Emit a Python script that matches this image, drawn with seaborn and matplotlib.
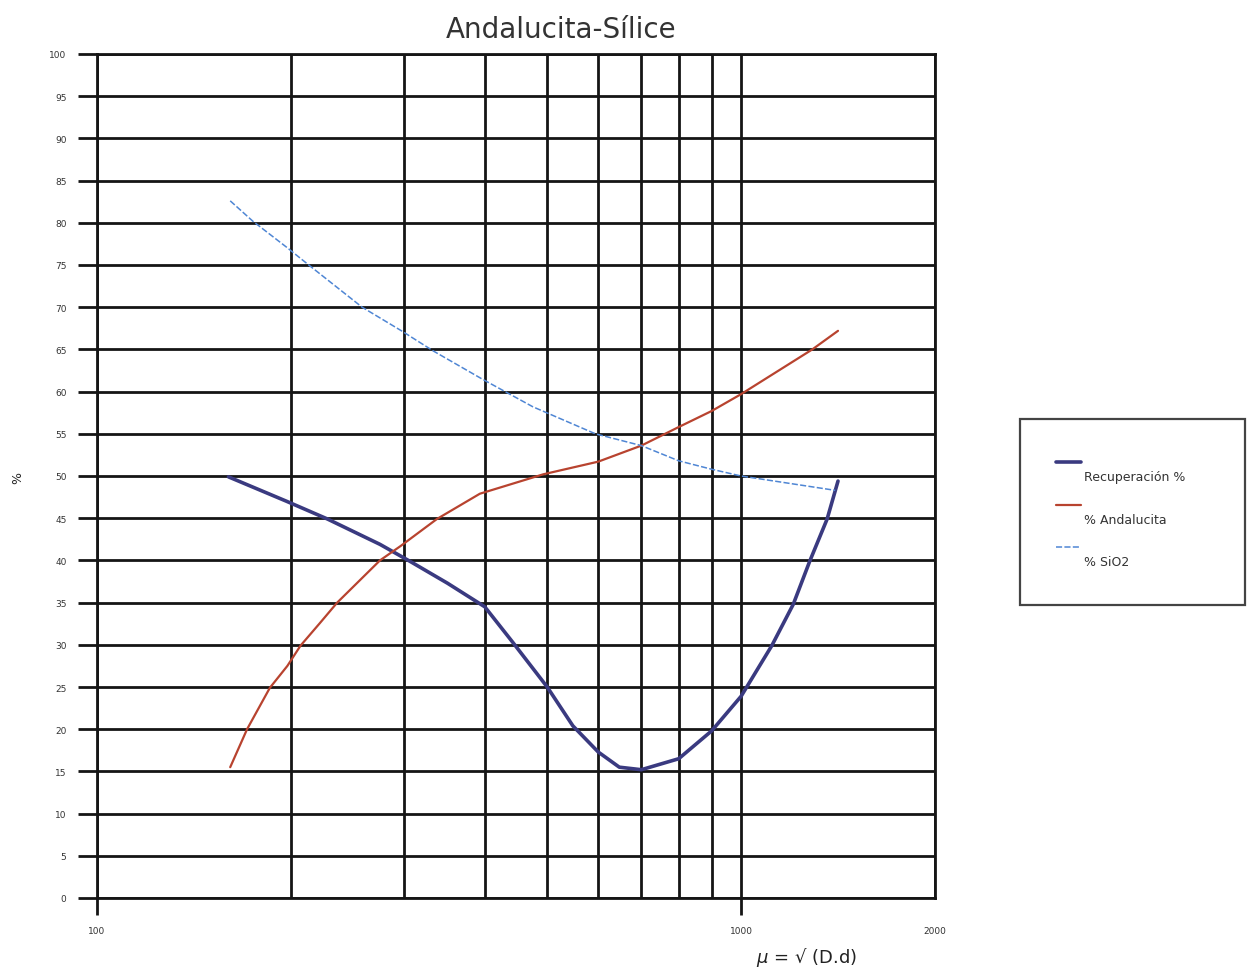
import matplotlib
matplotlib.use("Agg")
import matplotlib.pyplot as plt
import seaborn as sns
import pandas as pd
from matplotlib.ticker import FixedLocator, NullFormatter
from matplotlib.lines import Line2D
from matplotlib.legend_handler import HandlerLine2D

# ---- data ----
rec_x = [160, 197, 228, 275, 306, 350, 400, 442, 500, 548, 600, 647, 700, 800, 900, 1000, 1116, 1205, 1278, 1360, 1414]
rec_y = [49.9, 47.0, 44.9, 41.9, 39.9, 37.3, 34.5, 30.3, 25.0, 20.4, 17.3, 15.5, 15.2, 16.5, 19.8, 23.9, 29.9, 34.8, 39.9, 44.9, 49.4]

and_x = [161, 171, 185.5, 197.5, 207, 222, 236, 275, 296, 337, 393, 493, 600, 700, 800, 900, 1000, 1290, 1414]
and_y = [15.5, 20.0, 24.9, 27.5, 29.9, 32.6, 35.0, 40.0, 41.7, 44.9, 47.9, 50.2, 51.7, 53.6, 55.8, 57.7, 59.7, 65.0, 67.2]

sio_x = [161, 174.5, 197, 214, 258, 297, 333, 396, 475, 594, 700, 800, 900, 1000, 1400]
sio_y = [82.6, 80.2, 77.1, 74.9, 70.0, 67.2, 64.8, 61.5, 58.2, 55.0, 53.6, 51.8, 50.8, 50.0, 48.3]

series_names = ["Recuperación %", "% Andalucita", "% SiO2"]
x_major = [100, 1000, 2000]
x_major_labels = ["100", "1000", "2000"]
x_minor = [200, 300, 400, 500, 600, 700, 800, 900]
y_ticks = list(range(0, 101, 5))

df = pd.concat([
    pd.DataFrame({"x": rec_x, "y": rec_y, "serie": series_names[0]}),
    pd.DataFrame({"x": and_x, "y": and_y, "serie": series_names[1]}),
    pd.DataFrame({"x": sio_x, "y": sio_y, "serie": series_names[2]}),
], ignore_index=True)

sns.set_theme(style="white")
plt.rcParams['font.family'] = ['DejaVu Sans']

fig = plt.figure(figsize=(12.47, 9.70), dpi=100)
ax = fig.add_axes([97/1247, 1-899/970, (935-97)/1247, (899-55)/970])

palette = {series_names[0]: "#3a3a80", series_names[1]: "#b8432f", series_names[2]: "#4f86d4"}
sizes = {series_names[0]: 2.6, series_names[1]: 1.6, series_names[2]: 1.1}
sns.lineplot(data=df, x="x", y="y", hue="serie", size="serie", sizes=sizes,
             style="serie", dashes={series_names[0]: "", series_names[1]: "", series_names[2]: (4, 1.5)},
             palette=palette, sort=False, estimator=None, ax=ax, legend=False, zorder=3)

ax.set_xscale("log")
ax.set_xlim(100, 2000)
ax.set_ylim(0, 100)

ax.xaxis.set_major_locator(FixedLocator(x_major))
ax.set_xticklabels(x_major_labels)
ax.xaxis.set_minor_locator(FixedLocator(x_minor))
ax.xaxis.set_minor_formatter(NullFormatter())
ax.set_yticks(y_ticks)
ax.set_yticklabels([str(v) for v in y_ticks])

ax.grid(True, which="both", axis="x", color="#151515", linewidth=2.0)
ax.grid(True, which="major", axis="y", color="#151515", linewidth=2.0)
ax.set_axisbelow(True)

ax.tick_params(axis="y", which="major", length=14, width=2.0, color="#151515",
               labelsize=6.5, labelcolor="#333333", pad=8, left=True)
ax.tick_params(axis="x", which="major", length=12, width=2.0, color="#151515",
               labelsize=6.5, labelcolor="#333333", pad=8, bottom=True)
ax.tick_params(axis="x", which="minor", length=0)
ax.xaxis.get_major_ticks()[2].tick1line.set_visible(False)
for s in ax.spines.values():
    s.set_color("#151515")
    s.set_linewidth(2.0)

ax.set_xlabel("")
ax.set_ylabel("")
fig.text(18/1247, 1-478/970, "%", rotation=90, ha="center", va="center", fontsize=9, color="#222222")
fig.text(806/1247, 1-958/970, r"$\mu$ = √ (D.d)", ha="center", va="center", fontsize=13, color="#222222")
fig.text(561/1247, 1-30/970, "Andalucita-Sílice", ha="center", va="center", fontsize=20, color="#333333")


class RaisedLineHandler(HandlerLine2D):
    """Legend line drawn above its label, as in the reference."""
    def create_artists(self, legend, orig_handle, xdescent, ydescent, width, height, fontsize, trans):
        return super().create_artists(legend, orig_handle, xdescent, ydescent - 11,
                                      width, height, fontsize, trans)


handles = [Line2D([], [], color=palette[n], linewidth=sizes[n], linestyle="-" if i < 2 else (0, (4, 1.5)))
           for i, n in enumerate(series_names)]
x0 = (1020 - 97) / 838
w = (1245 - 1020) / 838
y0 = (899 - 607) / 844
h = (607 - 420) / 844
leg = ax.legend(handles, ["\n" + n for n in series_names], loc="upper left",
                bbox_to_anchor=(x0, y0, w, h), mode="expand", frameon=True, fontsize=9,
                handlelength=2.0, handletextpad=0.2, labelspacing=1.16,
                borderpad=2.9, borderaxespad=0, fancybox=False,
                handler_map={Line2D: RaisedLineHandler()})
leg.get_frame().set_edgecolor("#151515")
leg.get_frame().set_linewidth(1.6)
for t in leg.get_texts():
    t.set_color("#333333")

fig.savefig("out.png", dpi=100)
